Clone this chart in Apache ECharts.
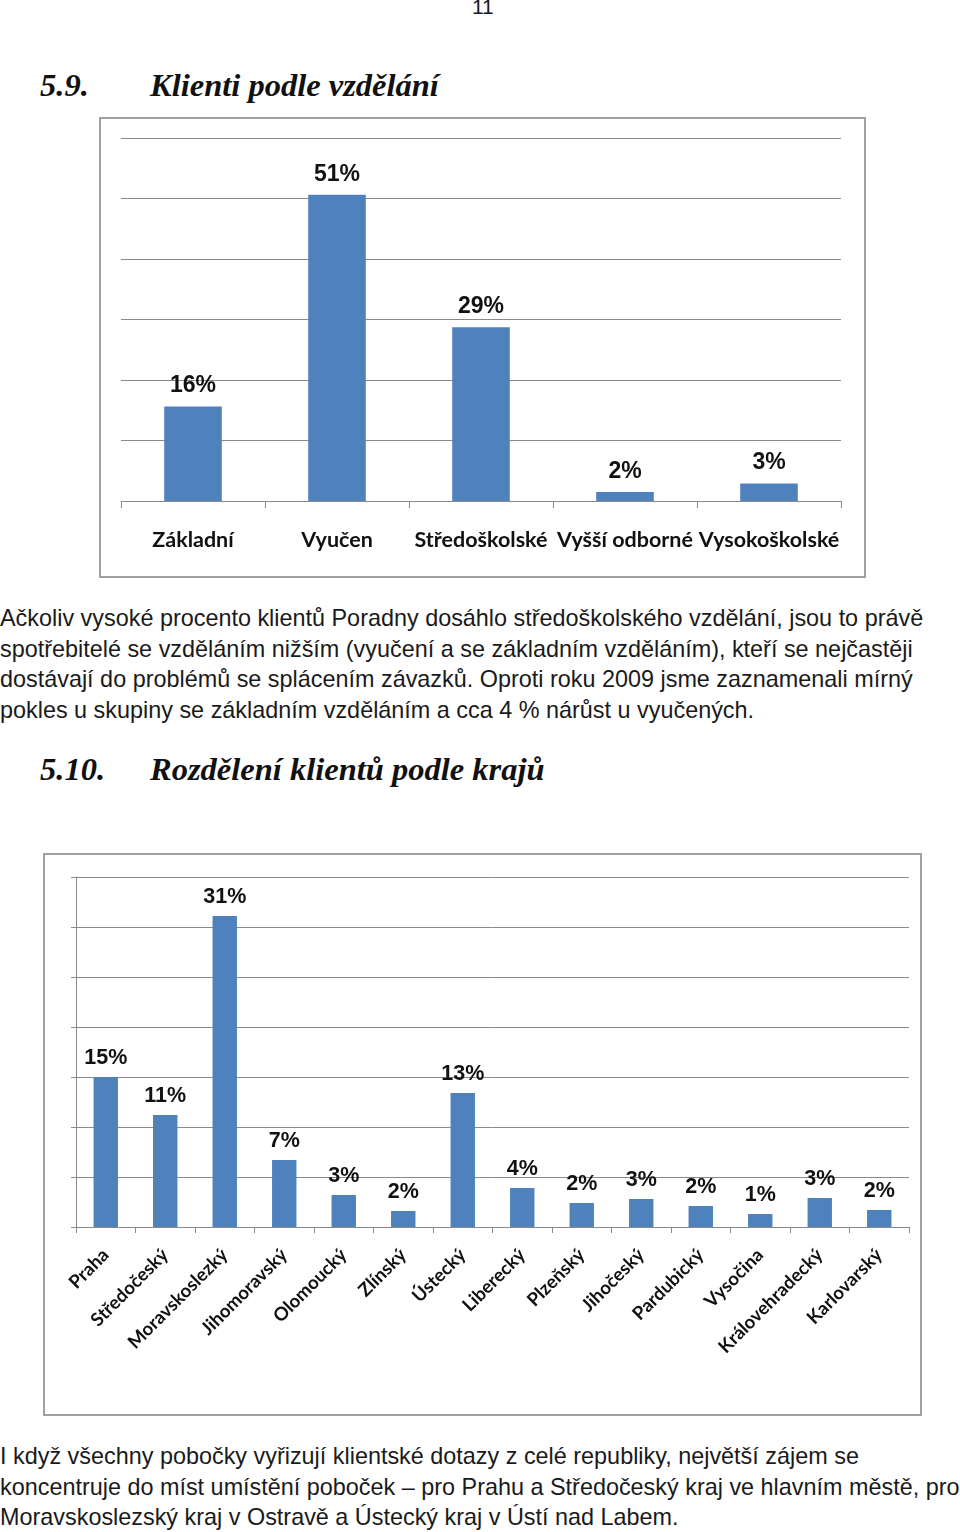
<!DOCTYPE html>
<html>
<head>
<meta charset="utf-8">
<script src="https://cdn.jsdelivr.net/npm/echarts@6/dist/echarts.min.js"></script>
<style>
  html, body { margin: 0; padding: 0; background: #fff; }
  body { width: 960px; height: 1532px; position: relative; overflow: hidden; }
  .txt { position: absolute; font-family: "Liberation Sans", Arial, sans-serif; color: #1a1a1a; white-space: nowrap; }
  .par { font-size: 23.4px; line-height: 30.7px; left: 0; }
  .head { font-family: "Liberation Serif", serif; font-weight: bold; font-style: italic; font-size: 32.5px; color: #111; }
  .chart { position: absolute; }
  .frame { position: absolute; box-sizing: border-box; border: 2px solid #a0a0a0; }
</style>
</head>
<body>
<div class="txt" style="left:472px; top:-5px; font-size:21px;">11</div>
<div class="txt head" style="left:40px; top:67px;">5.9.</div>
<div class="txt head" style="left:150px; top:67px;">Klienti podle vzdělání</div>
<div class="frame" style="left:99px; top:117px; width:767px; height:461px;"></div>
<div class="chart" id="eduChart" style="left:99px; top:117px; width:766px; height:460px;"></div>
<div class="txt par" style="top:603px;">Ačkoliv vysoké procento klientů Poradny dosáhlo středoškolského vzdělání, jsou to právě<br>spotřebitelé se vzděláním nižším (vyučení a se základním vzděláním), kteří se nejčastěji<br>dostávají do problémů se splácením závazků. Oproti roku 2009 jsme zaznamenali mírný<br>pokles u skupiny se základním vzděláním a cca 4 % nárůst u vyučených.</div>
<div class="txt head" style="left:40px; top:751px;">5.10.</div>
<div class="txt head" style="left:150px; top:751px;">Rozdělení klientů podle krajů</div>
<div class="frame" style="left:43px; top:853px; width:879px; height:563px;"></div>
<div class="chart" id="regionChart" style="left:43px; top:853px; width:878px; height:562px;"></div>
<div class="txt par" style="top:1441px;">I když všechny pobočky vyřizují klientské dotazy z celé republiky, největší zájem se<br>koncentruje do míst umístění poboček – pro Prahu a Středočeský kraj ve hlavním městě, pro<br>Moravskoslezský kraj v Ostravě a Ústecký kraj v Ústí nad Labem.</div>

<script>
// 5.9 vzdělání
const eduCategories = ['Základní', 'Vyučen', 'Středoškolské', 'Vyšší odborné', 'Vysokoškolské'];
const eduValues = [15.6, 50.6, 28.7, 1.5, 2.9];

// 5.10 kraje
const regionCategories = ['Praha', 'Středočeský', 'Moravskoslezký', 'Jihomoravský', 'Olomoucký', 'Zlínský', 'Ústecký',
  'Liberecký', 'Plzeňský', 'Jihočeský', 'Pardubický', 'Vysočina', 'Královehradecký', 'Karlovarský'];
const regionValues = [15.0, 11.2, 31.1, 6.7, 3.2, 1.6, 13.4, 3.9, 2.4, 2.8, 2.1, 1.3, 2.9, 1.7];

const barColor = '#4f81bd';
const gridColor = '#8a8a8a';
const labelFont = 'Lato, "Open Sans", sans-serif';

function valueLabel(size, dist) {
  return {
    show: true,
    position: 'top',
    distance: dist,
    fontFamily: '"Liberation Sans", Arial, sans-serif',
    fontWeight: 'bold',
    fontSize: size,
    color: '#111',
    formatter: p => Math.round(p.value) + '%'
  };
}

const eduChart = echarts.init(document.getElementById('eduChart'));
eduChart.setOption({
  animation: false,
  grid: { left: 22, right: 24, top: 21, bottom: 76 },
  xAxis: {
    type: 'category',
    data: eduCategories,
    axisLine: { lineStyle: { color: gridColor, width: 1 } },
    axisTick: { show: true, length: 7, lineStyle: { color: gridColor } },
    axisLabel: {
      interval: 0,
      margin: 28,
      fontFamily: labelFont,
      fontWeight: 'bold',
      fontSize: 21.5,
      color: '#111'
    }
  },
  yAxis: {
    type: 'value',
    min: 0, max: 60, interval: 10,
    axisLine: { show: false },
    axisTick: { show: false },
    axisLabel: { show: false },
    splitLine: { lineStyle: { color: gridColor, width: 1 } }
  },
  series: [{
    type: 'bar',
    data: eduValues,
    barWidth: '40%',
    itemStyle: { color: barColor },
    label: valueLabel(23, 9)
  }]
});

const regionChart = echarts.init(document.getElementById('regionChart'));
regionChart.setOption({
  animation: false,
  grid: { left: 33, right: 12, top: 24, bottom: 188 },
  xAxis: {
    type: 'category',
    data: regionCategories,
    axisLine: { lineStyle: { color: gridColor, width: 1 } },
    axisTick: { show: true, length: 6, lineStyle: { color: gridColor } },
    axisLabel: {
      interval: 0,
      rotate: 45,
      margin: 25,
      fontFamily: labelFont,
      fontWeight: 'bold',
      fontSize: 18.5,
      color: '#111'
    }
  },
  yAxis: {
    type: 'value',
    min: 0, max: 35, interval: 5,
    axisLine: { show: true, lineStyle: { color: gridColor, width: 1 } },
    axisTick: { show: true, length: 5, lineStyle: { color: gridColor } },
    axisLabel: { show: false },
    splitLine: { lineStyle: { color: gridColor, width: 1 } }
  },
  series: [{
    type: 'bar',
    data: regionValues,
    barWidth: '41%',
    itemStyle: { color: barColor },
    label: valueLabel(21.5, 8)
  }]
});
</script>
</body>
</html>
